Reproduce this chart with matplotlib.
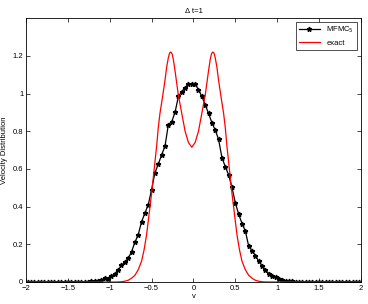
import numpy as np
import matplotlib
matplotlib.use('Agg')
import matplotlib.pyplot as plt

# MFMC_5 samples (cell centres)
v_mc = np.round(np.arange(-1.98, 2.0, 0.04), 2)
f_mc = [0.001, 0.0, 0.001, 0.0, 0.001, 0.0, 0.001, 0.0, 0.001, 0.0,
        0.0, 0.001, 0.002, 0.0, 0.001, 0.001, 0.0, 0.002, 0.001, 0.003,
        0.004, 0.007, 0.01, 0.022, 0.018, 0.03, 0.045, 0.062, 0.088, 0.105,
        0.125, 0.16, 0.21, 0.25, 0.32, 0.365, 0.41, 0.49, 0.58, 0.625,
        0.675, 0.72, 0.835, 0.85, 0.90, 0.985, 1.01, 1.03, 1.05, 1.053,
        1.05, 1.02, 0.985, 0.94, 0.895, 0.845, 0.806, 0.757, 0.66, 0.612,
        0.568, 0.502, 0.42, 0.36, 0.31, 0.27, 0.19, 0.165, 0.14, 0.11,
        0.085, 0.062, 0.045, 0.033, 0.024, 0.015, 0.01, 0.006, 0.004, 0.003,
        0.002, 0.001, 0.0, 0.001, 0.002, 0.0, 0.001, 0.0, 0.001, 0.0,
        0.001, 0.002, 0.0, 0.001, 0.0, 0.001, 0.0, 0.001, 0.0, 0.001]

# exact solution
v_ex = [-2.0, -0.92, -0.87, -0.82, -0.78, -0.74, -0.70, -0.66, -0.62, -0.59,
        -0.56, -0.53, -0.50, -0.47, -0.44, -0.42, -0.40, -0.37, -0.34, -0.32,
        -0.30, -0.285, -0.27, -0.255, -0.24, -0.22, -0.18, -0.14, -0.10, -0.06,
        -0.02,
        0.02, 0.06, 0.10, 0.14, 0.18, 0.20, 0.215, 0.23, 0.245, 0.26,
        0.28, 0.30, 0.33, 0.36, 0.38, 0.40, 0.43, 0.46, 0.49, 0.52,
        0.55, 0.58, 0.62, 0.66, 0.70, 0.74, 0.78, 0.83, 0.88, 2.0]
f_ex = [0.0, 0.0, 0.001, 0.004, 0.009, 0.02, 0.035, 0.065, 0.11, 0.17,
        0.25, 0.36, 0.47, 0.595, 0.72, 0.82, 0.895, 0.98, 1.07, 1.14,
        1.19, 1.215, 1.22, 1.21, 1.18, 1.12, 0.99, 0.895, 0.80, 0.74,
        0.715,
        0.74, 0.80, 0.895, 0.99, 1.12, 1.18, 1.21, 1.22, 1.215, 1.19,
        1.14, 1.07, 0.98, 0.895, 0.82, 0.72, 0.595, 0.47, 0.36, 0.25,
        0.17, 0.11, 0.065, 0.035, 0.02, 0.009, 0.004, 0.001, 0.0, 0.0]

plt.rcParams['font.family'] = ['Liberation Sans', 'DejaVu Sans']
fs = 5.5

fig = plt.figure(figsize=(3.68, 3.04), dpi=100)
ax = fig.add_axes([0.0707, 0.0724, 0.910, 0.868])

ax.plot(v_mc, f_mc, '-*', color='black', lw=0.9, markersize=3.5, label='MFMC$_5$')
ax.plot(v_ex, f_ex, '-', color='red', lw=0.9, label='exact')

ax.set_xlim(-2, 2)
ax.set_ylim(0, 1.4)
ax.set_xticks([-2, -1.5, -1, -0.5, 0, 0.5, 1, 1.5, 2])
ax.set_xticklabels(['\u22122', '\u22121.5', '\u22121', '\u22120.5', '0', '0.5', '1', '1.5', '2'])
ax.set_yticks([0, 0.2, 0.4, 0.6, 0.8, 1, 1.2])
ax.set_yticklabels(['0', '0.2', '0.4', '0.6', '0.8', '1', '1.2'])
ax.tick_params(direction='in', top=True, right=True, labelsize=fs, length=3, width=0.5, pad=2)
for s in ax.spines.values():
    s.set_linewidth(0.6)

ax.set_title('\u0394 t=1', fontsize=fs, pad=4)
ax.set_xlabel('v', fontsize=fs, labelpad=1)
ax.set_ylabel('Velocity Distribution', fontsize=fs, labelpad=3)

leg = ax.legend(loc='upper right', fontsize=fs, frameon=True, fancybox=False,
                edgecolor='black', borderaxespad=0.5, handlelength=2.8,
                labelspacing=0.5, borderpad=0.4)
leg.get_frame().set_linewidth(0.6)

fig.savefig('out.png', dpi=100)
